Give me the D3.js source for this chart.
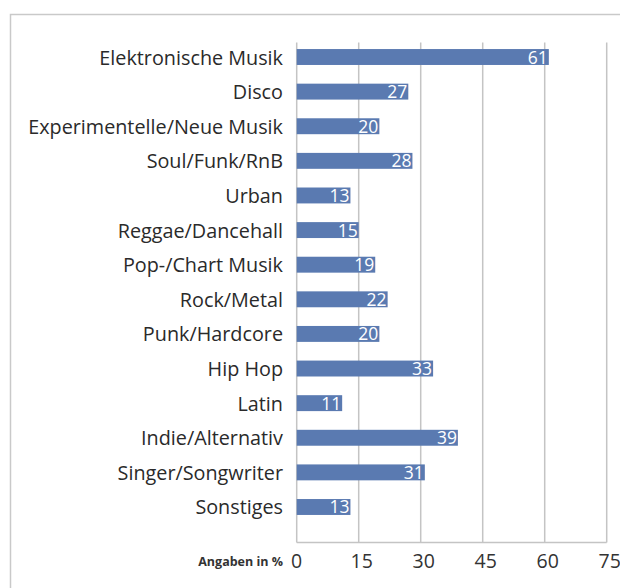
<!DOCTYPE html>
<html><head><meta charset="utf-8">
<script src="https://cdn.jsdelivr.net/npm/d3@7"></script>
<style>
html,body{margin:0;padding:0;background:#fff;}
svg{display:block;}
</style></head>
<body>
<svg id="c" width="620" height="588"></svg>
<script>
const categories = ["Elektronische Musik","Disco","Experimentelle/Neue Musik","Soul/Funk/RnB","Urban","Reggae/Dancehall","Pop-/Chart Musik","Rock/Metal","Punk/Hardcore","Hip Hop","Latin","Indie/Alternativ","Singer/Songwriter","Sonstiges"];
const values = [61,27,20,28,13,15,19,22,20,33,11,39,31,13];
const tickValues = [0,15,30,45,60,75];
const axisNote = "Angaben in %";

const svg = d3.select("#c");
const font = "'Open Sans', 'Noto Sans', sans-serif";

// frame
svg.append("path").attr("d","M10.5,700 V14.5 H700").attr("fill","none").attr("stroke","#c9c9c9").attr("stroke-width",1.5);

const x = d3.scaleLinear().domain([0,75]).range([296.7,606.7]);
const y = d3.scaleBand().domain(categories).range([39.7,524.3]).paddingInner(0.54).paddingOuter(0.27);
const gridTop = 42.5, gridBottom = 542.5;

// gridlines
svg.append("g").selectAll("line").data(tickValues).join("line")
  .attr("x1",d=>x(d)).attr("x2",d=>x(d)).attr("y1",gridTop).attr("y2",gridBottom)
  .attr("stroke","#c4c4c4").attr("stroke-width",1.5);
// bottom axis line
svg.append("line").attr("x1",x(0)).attr("x2",x(75)).attr("y1",gridBottom).attr("y2",gridBottom)
  .attr("stroke","#c4c4c4").attr("stroke-width",1.5);

// bars
svg.append("g").selectAll("rect").data(categories).join("rect")
  .attr("x",x(0)).attr("y",d=>y(d)).attr("height",y.bandwidth())
  .attr("width",(d,i)=>x(values[i])-x(0)).attr("fill","#5a7ab1");

// value labels
svg.append("g").selectAll("text").data(categories).join("text")
  .attr("x",(d,i)=>x(values[i])-1).attr("y",d=>y(d)+y.bandwidth()/2+6.5)
  .attr("text-anchor","end").attr("fill","#fff").attr("font-family",font).attr("font-size",17.5)
  .text((d,i)=>values[i]);

// category labels
svg.append("g").selectAll("text").data(categories).join("text")
  .attr("x",283).attr("y",d=>y(d)+y.bandwidth()/2+7.5)
  .attr("text-anchor","end").attr("fill","#2a2a2a").attr("font-family",font).attr("font-size",19.8)
  .text(d=>d);

// tick labels
svg.append("g").selectAll("text").data(tickValues).join("text")
  .attr("x",d=>x(d)+(d===0?0:3)).attr("y",568)
  .attr("text-anchor","middle").attr("fill","#333").attr("font-family",font).attr("font-size",19.5)
  .text(d=>d);

svg.append("text").attr("x",283).attr("y",566).attr("text-anchor","end")
  .attr("font-family",font).attr("font-weight","bold").attr("font-size",12.5).attr("fill","#333")
  .text(axisNote);
</script>
</body></html>
